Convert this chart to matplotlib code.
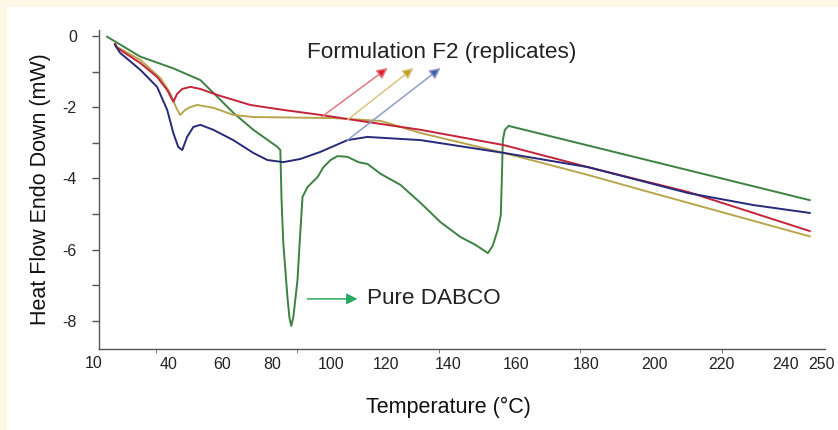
import numpy as np
from matplotlib import pyplot as plt
from matplotlib.patches import Rectangle

###################
# Plot parameters #
###################
# Temperature labels and their place along the axis (pixels of the axis strip)
tick_temps = [10, 40, 60, 80, 100, 120, 140, 160, 180, 200, 220, 240, 250]
tick_px = [94, 168, 222, 272, 331, 385, 447, 515, 585, 653, 720, 784, 820]
minor_temps = [35.1, 88.5, 137.1, 178.3, 220.3]

# Pure DABCO thermogram (temperature degC, heat flow mW)
dabco_t = [15.3, 28.7, 41.9, 51.9, 56.7, 64.4, 72.4, 81.7, 82.7, 83.1, 83.7, 84.4,
           85.1, 85.8, 86.4, 87.1, 88.5, 89.5, 90.2, 91.9, 95.3, 97.3, 99.7, 102.2,
           105.9, 110.0, 113.3, 118.2, 124.8, 131.3, 137.7, 143.8, 148.2, 151.8,
           153.2, 154.7, 155.6, 155.9, 156.2, 156.8, 157.9, 246.8]
dabco_q = [-0.01, -0.57, -0.90, -1.23, -1.59, -2.15, -2.63, -3.11, -3.20, -4.58, -5.82, -6.58,
           -7.34, -7.93, -8.15, -7.90, -6.86, -5.45, -4.52, -4.24, -3.96, -3.68, -3.48, -3.37,
           -3.39, -3.54, -3.59, -3.87, -4.18, -4.69, -5.23, -5.65, -5.87, -6.10,
           -5.90, -5.45, -5.03, -4.04, -2.92, -2.63, -2.52, -4.61]

# Formulation F2, replicate 1
f2a_t = [18.5, 19.3, 28.7, 35.5, 39.6, 41.9, 43.3, 45.2, 48.2, 51.9, 58.2, 71.2,
         83.7, 96.3, 113.3, 131.3, 156.5, 180.6, 210.2, 246.8]
f2a_q = [-0.21, -0.32, -0.75, -1.14, -1.51, -1.84, -1.62, -1.48, -1.42, -1.48, -1.65, -1.93,
         -2.07, -2.21, -2.41, -2.63, -3.06, -3.68, -4.38, -5.48]

# Formulation F2, replicate 2
f2b_t = [18.5, 19.3, 28.7, 36.8, 40.7, 43.0, 44.4, 46.3, 48.2, 50.7, 56.7, 64.4,
         72.4, 100.7, 118.2, 131.3, 156.5, 180.6, 200.0, 246.8]
f2b_q = [-0.21, -0.30, -0.66, -1.17, -1.59, -2.01, -2.21, -2.07, -1.99, -1.93, -2.01, -2.21,
         -2.27, -2.30, -2.38, -2.72, -3.28, -3.90, -4.42, -5.63]

# Formulation F2, replicate 3
f2c_t = [18.5, 20.5, 28.7, 35.5, 39.6, 41.9, 43.7, 45.2, 47.0, 49.3, 51.9, 56.7,
         64.4, 72.4, 78.0, 83.7, 89.5, 96.3, 105.9, 113.3, 131.3, 156.5, 180.6,
         210.2, 230.2, 246.8]
f2c_q = [-0.24, -0.46, -0.94, -1.42, -2.07, -2.72, -3.11, -3.20, -2.83, -2.55, -2.49, -2.63,
         -2.92, -3.28, -3.48, -3.54, -3.45, -3.25, -2.92, -2.83, -2.92, -3.28, -3.68,
         -4.41, -4.75, -4.97]

# Colours
green = '#3c8241'
red = '#c3243a'
gold = '#b9a54e'
navy = '#262a78'
cream = '#fdf8e6'

plt.rcParams['font.family'] = ['Liberation Sans', 'DejaVu Sans']


# Piecewise mapping of the temperature axis
knot_t = [0] + tick_temps + [260]
knot_p = [69.3] + tick_px + [857.0]


def forward(t):
    return np.interp(t, knot_t, knot_p)


def inverse(p):
    return np.interp(p, knot_p, knot_t)


fig = plt.figure(figsize=(8.38, 4.30), dpi=100)
fig.patch.set_facecolor(cream)
fig.patches.append(Rectangle((7 / 838, 0), 1, 1 - 7 / 430, transform=fig.transFigure,
                             facecolor='white', edgecolor='none', zorder=-5))

ax = fig.add_axes([99 / 838, 1 - 349 / 430, 726 / 838, 319 / 430])
ax.set_zorder(2)
ax.set_facecolor('none')
ax.set_xscale('function', functions=(forward, inverse))

# Curves
ax.plot(dabco_t, dabco_q, color=green, lw=1.4)
ax.plot(f2b_t, f2b_q, color=gold, lw=1.4)
ax.plot(f2a_t, f2a_q, color=red, lw=1.4)
ax.plot(f2c_t, f2c_q, color=navy, lw=1.4)

ax.set_xlim(12.0, 251.0)
ax.set_ylim(-8.80, 0.18)

# Axes styling
for side in ['top', 'right']:
    ax.spines[side].set_visible(False)
for side in ['left', 'bottom']:
    ax.spines[side].set_color('#555555')
    ax.spines[side].set_linewidth(1.0)

ax.set_xticks([t for t in tick_temps if t > 12])
ax.set_xticks(minor_temps, minor=True)
ax.tick_params(axis='x', which='major', length=0, pad=6, labelsize=11.5, labelcolor='#222222')
ax.tick_params(axis='x', which='minor', length=3, color='#666666')
ax.text(10, -0.021, '10', transform=ax.get_xaxis_transform(), ha='center', va='top',
        fontsize=11.5, color='#222222')

ax.set_yticks([0, -2, -4, -6, -8])
ax.set_yticklabels(['0', '-2', '-4', '-6', '-8'])
ax.set_yticks([-1, -3, -5, -7], minor=True)
ax.tick_params(axis='y', which='both', length=5, width=1.0, color='#555555')
ax.tick_params(axis='y', which='major', pad=11, labelsize=11.5, labelcolor='#222222')

ax.set_xlabel('Temperature (\u00b0C)', fontsize=15.5, color='#111111')
ax.xaxis.set_label_coords(0.482, -0.150)
ax.set_ylabel('Heat Flow Endo Down (mW)', fontsize=15.5, color='#111111', labelpad=8)

# Annotations
ax.text(138.1, -0.44, 'Formulation F2 (replicates)', ha='center', va='center',
        fontsize=16.2, color='#222222')
arrows = [((96.6, -2.27), (120.7, -0.89), '#e07a80', '#e3192b'),
          ((105.9, -2.35), (129.0, -0.89), '#d8c57c', '#c29a1e'),
          ((105.9, -2.92), (137.7, -0.89), '#8e9cc8', '#3a5ea8')]
for tail, head, line_c, head_c in arrows:
    ax.annotate('', xy=head, xytext=tail,
                arrowprops=dict(arrowstyle='-|>', color=line_c, fc=head_c, ec=line_c,
                                lw=1.1, mutation_scale=16, shrinkA=0, shrinkB=0))

ax.annotate('', xy=(109.6, -7.39), xytext=(91.9, -7.39),
            arrowprops=dict(arrowstyle='-|>', color='#2aa860', lw=1.1,
                            mutation_scale=16, shrinkA=0, shrinkB=0))
ax.text(113.3, -7.39, 'Pure DABCO', ha='left', va='center', fontsize=16.2, color='#222222')

fig.savefig('out.png', dpi=100, facecolor=fig.get_facecolor())
